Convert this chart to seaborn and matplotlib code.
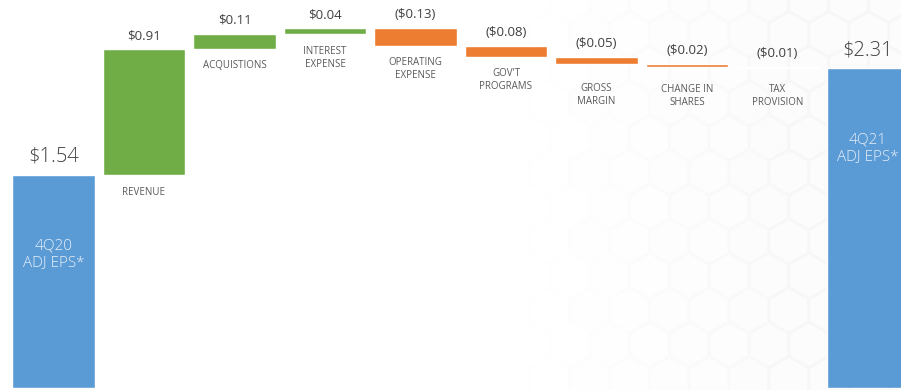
import matplotlib
matplotlib.use("Agg")
import matplotlib.pyplot as plt
from matplotlib.patches import RegularPolygon
import seaborn as sns
import pandas as pd
import numpy as np

# ---- data ----
categories = ["4Q20 ADJ EPS", "REVENUE", "ACQUISTIONS", "INTEREST\nEXPENSE",
              "OPERATING\nEXPENSE", "GOV'T\nPROGRAMS", "GROSS\nMARGIN",
              "CHANGE IN\nSHARES", "TAX\nPROVISION", "4Q21 ADJ EPS"]
changes = [1.54, 0.91, 0.11, 0.04, -0.13, -0.08, -0.05, -0.02, -0.01, 2.31]
kinds = ["total", "up", "up", "up", "down", "down", "down", "down", "down", "total"]
value_labels = ["$1.54", "$0.91", "$0.11", "$0.04", "($0.13)", "($0.08)",
                "($0.05)", "($0.02)", "($0.01)", "$2.31"]
total_labels = {0: "4Q20\nADJ EPS*", 9: "4Q21\nADJ EPS*"}

# ---- waterfall geometry from data ----
bottoms, heights = [], []
running = 0.0
for c, k in zip(changes, kinds):
    if k == "total":
        bottoms.append(0.0)
        heights.append(c)
        running = c
    elif c >= 0:
        bottoms.append(running)
        heights.append(c)
        running += c
    else:
        running += c
        bottoms.append(running)
        heights.append(-c)

df = pd.DataFrame({"cat": categories, "height": heights, "bottom": bottoms, "kind": kinds})

colors = {"total": "#5B9BD5", "up": "#70AD47", "down": "#ED7D31"}
palette = [colors[k] for k in kinds]

sns.set_theme(style="white")
plt.rcParams["font.family"] = ["Open Sans", "DejaVu Sans"]

fig = plt.figure(figsize=(9.01, 3.90), dpi=100)

# faint hexagon background on the right
bg = fig.add_axes([0, 0, 1, 1])
bg.set_xlim(0, 901)
bg.set_ylim(390, 0)
bg.axis("off")
r = 23
dx = r * np.sqrt(3)
dy = r * 1.5
for row in range(-1, 14):
    for col in range(-1, 30):
        cx = 530 + col * dx + (dx / 2 if row % 2 else 0)
        cy = row * dy
        fade = np.clip((cx - 530) / 260, 0, 1)
        if fade <= 0:
            continue
        g = 1 - 0.03 * fade
        bg.add_patch(RegularPolygon((cx, cy), 6, radius=r, orientation=0,
                                    facecolor=(1 - 0.012 * fade,) * 3,
                                    edgecolor=(g, g, g), lw=2.0))

ax = fig.add_axes([0, 2 / 390, 1, 388 / 390])
ax.patch.set_alpha(0)
sns.barplot(data=df, x="cat", y="height", hue="cat", palette=palette,
            width=0.91, legend=False, ax=ax, saturation=1,
            order=categories, hue_order=categories)
# lift each bar onto its waterfall base
for patch, b in zip(ax.patches, bottoms):
    patch.set_y(b)
ax.set_xlim(-0.591, 9.365)
ax.set_ylim(0, 2.805)
ax.axis("off")

label_pad = [0, 12, 11, 12, 11, 11, 19, 17, 16, 0]
for i, (b, h) in enumerate(zip(bottoms, heights)):
    top = b + h
    big = kinds[i] == "total"
    ax.annotate(value_labels[i], (i, top), xytext=(0, 6 if big else 5),
                textcoords="offset points", ha="center", va="bottom",
                fontsize=14.5 if big else 9.5, color="#404040",
                fontweight="light" if big else "normal")
    if big:
        ax.annotate(total_labels[i], (i, top), xytext=(0, -46),
                    textcoords="offset points", ha="center", va="top",
                    fontsize=11, color="#e6eef8", linespacing=1.15, fontweight="light")
    else:
        ax.annotate(categories[i], (i, b), xytext=(0, -label_pad[i] * 0.72),
                    textcoords="offset points", ha="center", va="top",
                    fontsize=7, color="#595959", linespacing=1.25)

fig.savefig("out.png", dpi=100)
